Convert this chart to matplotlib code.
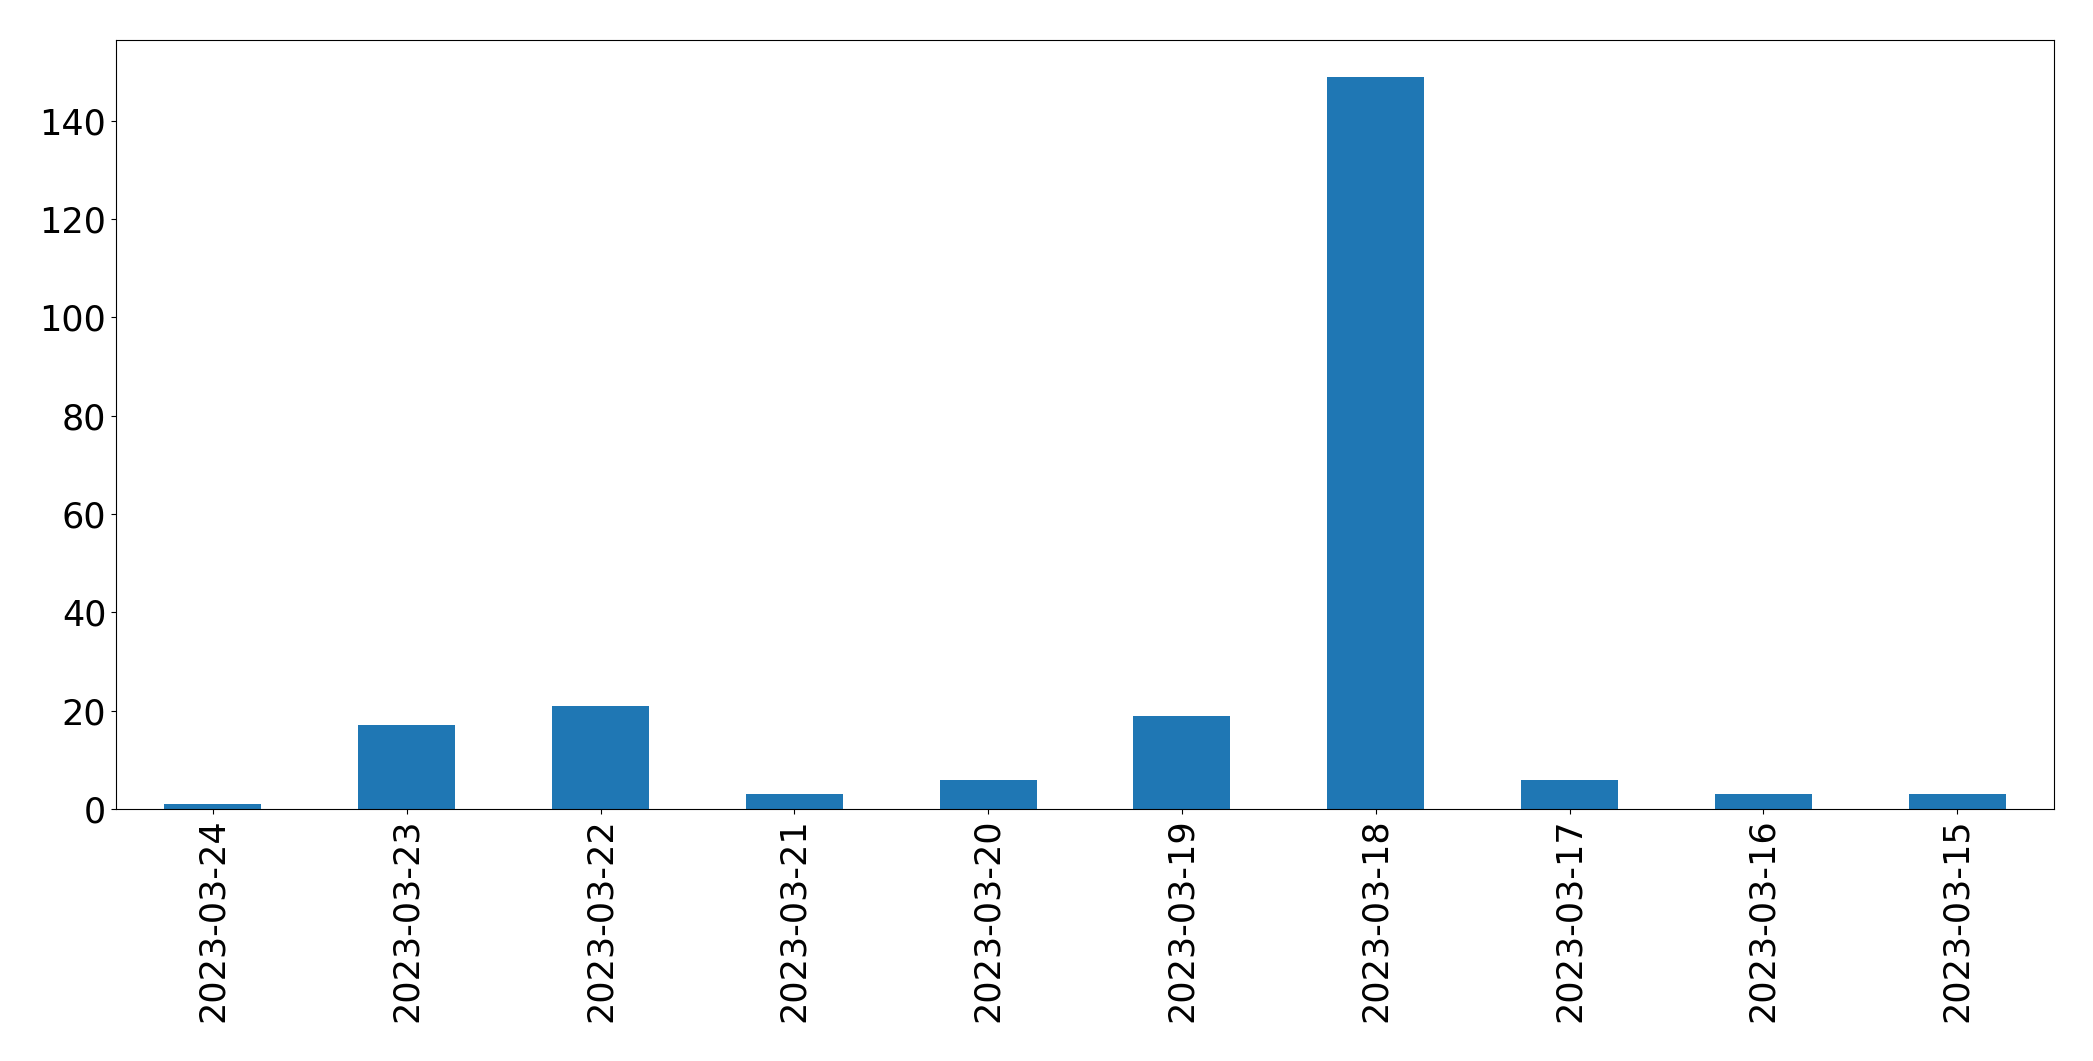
import matplotlib
matplotlib.use("Agg")
import matplotlib.pyplot as plt
import pandas as pd

dates = ["2023-03-24", "2023-03-23", "2023-03-22", "2023-03-21", "2023-03-20",
         "2023-03-19", "2023-03-18", "2023-03-17", "2023-03-16", "2023-03-15"]
counts = [1, 17, 21, 3, 6, 19, 149, 6, 3, 3]

s = pd.Series(counts, index=dates)

fig = plt.figure(figsize=(20.93, 10.61), dpi=100)
ax = fig.add_axes([116/2093, 1 - 809/1061, (2054 - 116)/2093, (809 - 40)/1061])
s.plot(kind="bar", ax=ax, color="#1f77b4", width=0.5)
ax.tick_params(axis="both", labelsize=25.2)
fig.savefig("out.png", dpi=100)
